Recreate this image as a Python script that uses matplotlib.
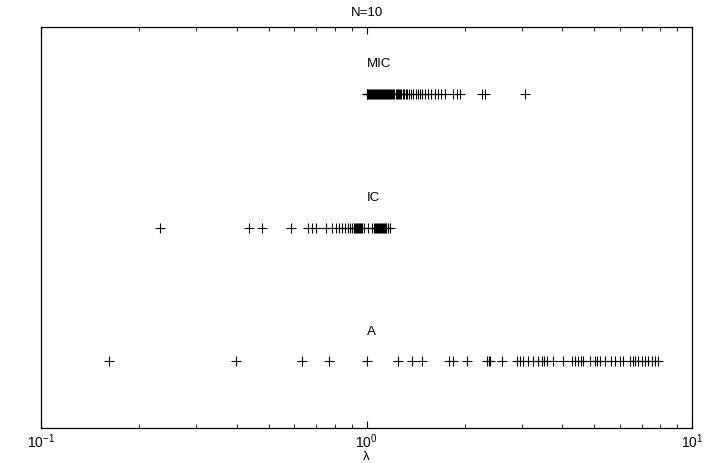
import matplotlib
matplotlib.use("Agg")
import matplotlib.pyplot as plt

plt.rcParams["font.family"] = ["Liberation Sans", "DejaVu Sans"]
plt.rcParams["mathtext.fontset"] = "custom"
plt.rcParams["mathtext.rm"] = "Liberation Sans"

# eigenvalues, one row per method
lam_a = [0.162, 0.397, 0.634, 0.767, 1.00, 1.250, 1.380, 1.481, 1.793, 1.845,
         2.036, 2.346, 2.371, 2.396, 2.609, 2.900, 2.962, 3.026, 3.135, 3.248,
         3.365, 3.461, 3.511, 3.586, 3.741, 4.016, 4.280, 4.371, 4.465, 4.560,
         4.626, 4.860, 5.035, 5.107, 5.216, 5.403, 5.638, 5.800, 6.009, 6.138,
         6.450, 6.588, 6.682, 6.825, 7.021, 7.171, 7.325, 7.535, 7.696, 7.861]
lam_ic = [0.232, 0.4355, 0.4775, 0.586, 0.661, 0.680, 0.700, 0.751, 0.783,
          0.806, 0.823, 0.841, 0.859, 0.877, 0.890, 0.903, 0.915, 0.922, 0.929,
          0.935, 0.942, 0.948, 0.955, 0.962, 0.969, 0.982, 1.011, 1.040, 1.054,
          1.062, 1.070, 1.077, 1.085, 1.092, 1.100, 1.108, 1.116, 1.124, 1.132,
          1.140, 1.148, 1.164, 1.181]
lam_mic = [1.000, 1.004, 1.011, 1.018, 1.025, 1.032, 1.040, 1.047, 1.054, 1.062,
           1.070, 1.077, 1.085, 1.092, 1.100, 1.108, 1.116, 1.124, 1.132, 1.140,
           1.148, 1.156, 1.164, 1.172, 1.181, 1.190, 1.198, 1.206, 1.215, 1.228,
           1.241, 1.250, 1.259, 1.268, 1.276, 1.290, 1.304, 1.318, 1.331, 1.351,
           1.370, 1.390, 1.419, 1.439, 1.460, 1.481, 1.512, 1.545, 1.578, 1.623,
           1.658, 1.694, 1.743, 1.845, 1.897, 1.938, 2.264, 2.312, 3.069]

rows = [("A", 1, lam_a), ("IC", 2, lam_ic), ("MIC", 3, lam_mic)]

fig = plt.figure(figsize=(7.08, 4.63), dpi=100)
ax = fig.add_axes([0.058, 0.0756, 0.9194, 0.866])

for name, level, vals in rows:
    ax.plot(vals, [level] * len(vals), "+", color="black",
            markersize=7, markeredgewidth=0.8)
    ax.text(1.0, level + 0.22, name, ha="left", va="center", fontsize=9.5)

ax.set_xscale("log")
ax.set_xlim(0.1, 10)
ax.set_ylim(0.5, 3.5)
ax.set_yticks([])
ax.tick_params(axis="x", which="both", direction="in", top=True, labelsize=10,
               pad=3)
ax.tick_params(axis="x", which="major", length=5, width=0.8)
ax.tick_params(axis="x", which="minor", length=3, width=0.6)
for s in ax.spines.values():
    s.set_linewidth(0.9)

ax.set_xlabel("λ", fontsize=9.5, labelpad=0)
ax.set_title("N=10", fontsize=9.5, pad=8)

fig.savefig("out.png", dpi=100)
